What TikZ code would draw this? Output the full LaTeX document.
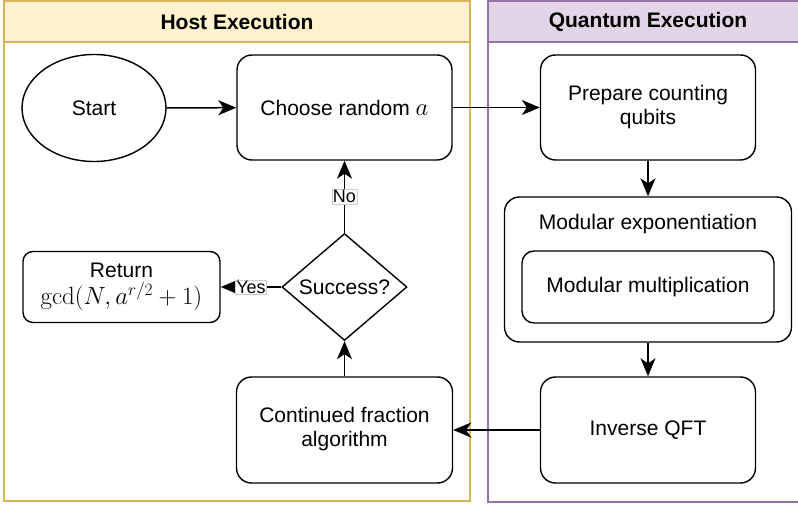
\documentclass[tikz,border=0pt]{standalone}
\usepackage[no-math]{fontspec}
\setmainfont{Liberation Sans}
\usetikzlibrary{calc,positioning,shapes.geometric,arrows.meta}
\definecolor{hostfill}{HTML}{FFF2CC}
\definecolor{hostline}{HTML}{D6B656}
\definecolor{qfill}{HTML}{E1D5E7}
\definecolor{qline}{HTML}{9673A6}
\newcommand{\bigmath}[1]{{\fontsize{26}{30}\selectfont$#1$}}
\tikzstyle{block} = [draw, rectangle, rounded corners=15pt, line width=1.4pt,
    align=center, inner sep=2pt]
\tikzstyle{lane} = [draw, rectangle, line width=2pt, inner sep=0pt]
\tikzstyle{lanehead} = [draw, rectangle, line width=2pt, inner sep=0pt,
    minimum height=41, anchor=north, font=\fontsize{21}{26}\selectfont\bfseries]
\tikzstyle{lbl} = [fill=white, draw=black!20, line width=0.4pt, inner sep=1pt,
    font=\fontsize{18}{20}\selectfont]
\tikzstyle{flow} = [line width=1.5pt, -{Stealth[length=18pt,width=15pt,inset=5pt]}]

\begin{document}
\begin{tikzpicture}[x=1pt,y=-1pt,
    every node/.style={font=\fontsize{21}{24}\selectfont}]
\useasboundingbox (0,0) rectangle (798,508);

% swimlanes
\node (host) [lane, draw=hostline, minimum width=466, minimum height=500] at (237,251) {};
\node (hosthead) [lanehead, fill=hostfill, draw=hostline, minimum width=466] at (host.north) {Host Execution};
\node (quantum) [lane, draw=qline, minimum width=320, minimum height=501] at (648,251.5) {};
\node (quantumhead) [lanehead, fill=qfill, draw=qline, minimum width=320] at (quantum.north) {Quantum Execution};

% host side
\node (start) [draw, ellipse, line width=1.4pt, minimum width=144, minimum height=107, inner sep=0pt] at (94,108) {Start};
\node (choose) [block, minimum width=215, minimum height=105] at (344.5,107.5) {Choose random \bigmath{a}};
\node (success) [draw, diamond, line width=1.4pt, aspect=1.17, minimum width=125, minimum height=107, inner sep=0pt] at (344.5,287) {Success?};
\node (return) [block, rounded corners=10pt, minimum width=197, minimum height=71] at (121.5,287) {Return\\[3pt]\bigmath{\gcd(N, a^{r/2}+1)}};
\node (cfrac) [block, minimum width=216, minimum height=106] at (344.5,430) {\strut Continued fraction\\\strut algorithm};

% quantum side
\node (prepare) [block, minimum width=215, minimum height=105] at (648,107.5) {\strut Prepare counting\\\strut qubits};
\node (modexp) [block, minimum width=287, minimum height=145] at (648,269.5) {};
\node (modexptitle) at ($(modexp.north)+(0,28)$) {Modular exponentiation};
\node (modmul) [block, rounded corners=12pt, minimum width=252, minimum height=72] at (648,287) {Modular multiplication};
\node (iqft) [block, minimum width=215, minimum height=106] at (648,430) {Inverse QFT};

% connectors
\draw[flow] (start) -- (choose);
\draw[flow] (choose) -- (prepare);
\draw[flow] (prepare) -- (modexp);
\draw[flow] (modexp) -- (iqft);
\draw[flow] (iqft) -- (cfrac);
\draw[flow] (cfrac) -- (success);
\draw[flow] (success) -- node[lbl] {No} (choose);
\draw[flow] (success) -- node[lbl] {Yes} (return);

\end{tikzpicture}
\end{document}
